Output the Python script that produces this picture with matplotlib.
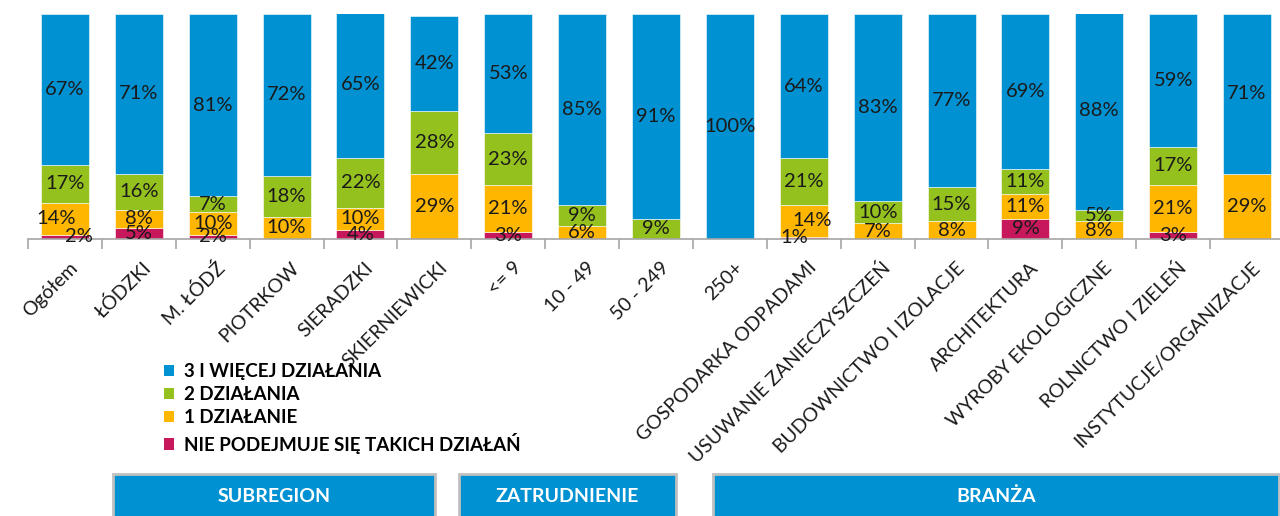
import numpy as np
import matplotlib.pyplot as plt
from matplotlib.patches import Patch, Rectangle

plt.rcParams['font.family'] = ['Lato', 'DejaVu Sans']

categories = ['Ogółem', 'ŁÓDZKI', 'M. ŁÓDŹ', 'PIOTRKOW', 'SIERADZKI',
              'SKIERNIEWICKI', '<= 9', '10 - 49', '50 - 249', '250+',
              'GOSPODARKA ODPADAMI', 'USUWANIE ZANIECZYSZCZEŃ',
              'BUDOWNICTWO I IZOLACJE', 'ARCHITEKTURA', 'WYROBY EKOLOGICZNE',
              'ROLNICTWO I ZIELEŃ', 'INSTYTUCJE/ORGANIZACJE']

# stacked bottom -> top
nie_podejmuje = [2, 5, 2, 0, 4, 0, 3, 0, 0, 0, 1, 0, 0, 9, 0, 3, 0]
jedno = [14, 8, 10, 10, 10, 29, 21, 6, 0, 0, 14, 7, 8, 11, 8, 21, 29]
dwa = [17, 16, 7, 18, 22, 28, 23, 9, 9, 0, 21, 10, 15, 11, 5, 17, 0]
trzy = [67, 71, 81, 72, 65, 42, 53, 85, 91, 100, 64, 83, 77, 69, 88, 59, 71]

series_names = ['NIE PODEJMUJE SIĘ TAKICH DZIAŁAŃ', '1 DZIAŁANIE',
                '2 DZIAŁANIA', '3 I WIĘCEJ DZIAŁANIA']
colors = ['#C8185C', '#FFB600', '#95C11F', '#0091D2']

groups = ['SUBREGION', 'ZATRUDNIENIE', 'BRANŻA']

fig = plt.figure(figsize=(12.8, 5.16), dpi=100)
W, H = 1280, 516
ax = fig.add_axes([28 / W, (H - 239) / H, 1256 / W, 225 / H])

x = np.arange(len(categories))
data = [nie_podejmuje, jedno, dwa, trzy]
bottom = np.zeros(len(categories))

# small manual nudges for crowded labels (in pixels)
nudge = {(0, 0): 14, (0, 1): -9, (10, 0): -10, (10, 1): 8}

for s, (vals, col) in enumerate(zip(data, colors)):
    vals = np.array(vals, dtype=float)
    ax.bar(x, vals, width=0.65, bottom=bottom, color=col,
           edgecolor='white', linewidth=0.4)
    for i, v in enumerate(vals):
        if v > 0:
            dx = nudge.get((i, s), 0) * 0.72
            ax.annotate(f'{int(v)}%', (x[i], bottom[i] + v / 2),
                        xytext=(dx, 0), textcoords='offset points',
                        ha='center', va='center', fontsize=14.5,
                        color='#1a1a1a')
    bottom += vals

ax.set_xlim(-0.5, len(categories) - 0.5)
ax.set_ylim(0, 100)
for sp in ['top', 'right', 'left']:
    ax.spines[sp].set_visible(False)
ax.spines['bottom'].set_color('#A6A6A6')
ax.spines['bottom'].set_linewidth(1.2)
ax.set_yticks([])
ax.set_xticks([])
ax.set_xticks(np.arange(-0.5, len(categories)), minor=True)
ax.tick_params(axis='x', which='minor', length=7, color='#A6A6A6', width=1.2)

# rotated category labels, right end just below each bar
for i, name in enumerate(categories):
    ax.annotate(name, (x[i], 0), xycoords=ax.get_xaxis_transform(),
                xytext=(10 * 0.72, -26 * 0.72), textcoords='offset points',
                ha='right', va='center', rotation=45, rotation_mode='anchor',
                fontsize=14, color='#1a1a1a', annotation_clip=False)

handles = [Patch(facecolor=c) for c in colors[::-1]]
fig.legend(handles, series_names[::-1], loc='upper left',
           bbox_to_anchor=(164 / W, (H - 363) / H), frameon=False,
           prop={'weight': 'bold', 'size': 13.5}, handlelength=0.55,
           handleheight=0.55, handletextpad=0.5, labelspacing=0.33,
           borderaxespad=0, borderpad=0)

boxes = [(113, 435), (459, 676), (713, 1279)]
for (x0, x1), name in zip(boxes, groups):
    fig.add_artist(Rectangle((x0 / W, -10 / H), (x1 - x0) / W, (42 + 10) / H,
                             transform=fig.transFigure, facecolor='#0091D2',
                             edgecolor='#C0C0C0', linewidth=2))
    fig.text((x0 + x1) / 2 / W, 20 / H, name, ha='center', va='center',
             color='white', fontsize=14, fontweight='bold')

fig.savefig('out.png', dpi=100)
